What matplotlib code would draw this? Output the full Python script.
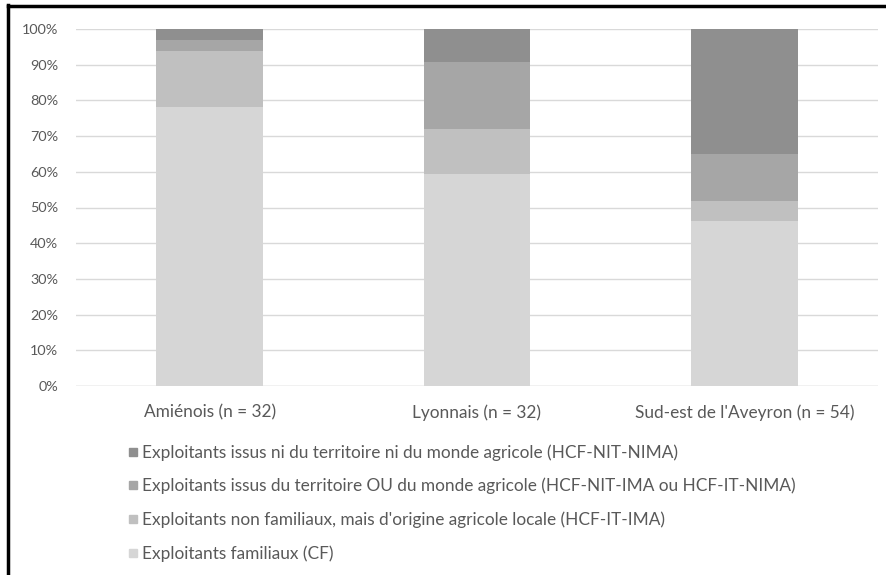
import numpy as np
import matplotlib.pyplot as plt
from matplotlib.lines import Line2D

# ----------------------------------------------------------
# Data (share of farmers, %)
# ----------------------------------------------------------

regions = ["Amiénois (n = 32)", "Lyonnais (n = 32)", "Sud-est de l'Aveyron (n = 54)"]

cf = [78.1, 59.4, 46.3]
hcf_it_ima = [15.6, 12.5, 5.6]
hcf_nit_ima = [3.1, 18.8, 13.0]
hcf_nit_nima = [3.1, 9.4, 35.2]

series_labels = [
    "Exploitants familiaux (CF)",
    "Exploitants non familiaux, mais d'origine agricole locale (HCF-IT-IMA)",
    "Exploitants issus du territoire OU du monde agricole (HCF-NIT-IMA ou HCF-IT-NIMA)",
    "Exploitants issus ni du territoire ni du monde agricole (HCF-NIT-NIMA)",
]
colors = ["#d6d6d6", "#c0c0c0", "#a6a6a6", "#8f8f8f"]

plt.rcParams["font.family"] = ["Lato", "DejaVu Sans"]
text_col = "#595959"

fig = plt.figure(figsize=(8.87, 5.75), dpi=100)
ax = fig.add_axes([76 / 887, 1 - 386 / 575, 802 / 887, 357 / 575])

x = np.arange(len(regions))
bottom = np.zeros(len(regions))
handles = []
for vals, lab, col in zip([cf, hcf_it_ima, hcf_nit_ima, hcf_nit_nima], series_labels, colors):
    ax.bar(x, vals, width=0.4, bottom=bottom, color=col, zorder=3)
    bottom += np.array(vals)
    handles.append(Line2D([], [], marker="s", linestyle="", color=col, markersize=5.5, label=lab))

ax.set_xlim(-0.5, 2.5)
ax.set_ylim(0, 100)
ax.set_yticks(range(0, 101, 10))
ax.set_yticklabels([f"{v}%" for v in range(0, 101, 10)])
ax.set_xticks(x)
ax.set_xticklabels(regions)
ax.tick_params(axis="both", length=0, colors=text_col)
ax.tick_params(axis="x", pad=13, labelsize=12.4)
ax.tick_params(axis="y", pad=13, labelsize=10.4)
ax.grid(axis="y", color="#d9d9d9", linewidth=1, zorder=0)
for s in ax.spines.values():
    s.set_visible(False)
ax.axhline(0, color="#d9d9d9", linewidth=1, zorder=1)

fig.legend(handles=handles[::-1], loc="upper left", bbox_to_anchor=(126 / 887, 1 - 444 / 575),
           frameon=False, fontsize=12.4, labelcolor=text_col, handletextpad=0.1,
           handlelength=0.8, labelspacing=1.0, borderaxespad=0, borderpad=0)

# black frame on top and left
fig.add_artist(Line2D([8.5 / 887, 8.5 / 887], [0, 1 - 5 / 575], color="black", linewidth=2.5,
                      transform=fig.transFigure))
fig.add_artist(Line2D([8.5 / 887, 1], [1 - 5.5 / 575, 1 - 5.5 / 575], color="black", linewidth=2.5,
                      transform=fig.transFigure))

fig.savefig("out.png", dpi=100)
